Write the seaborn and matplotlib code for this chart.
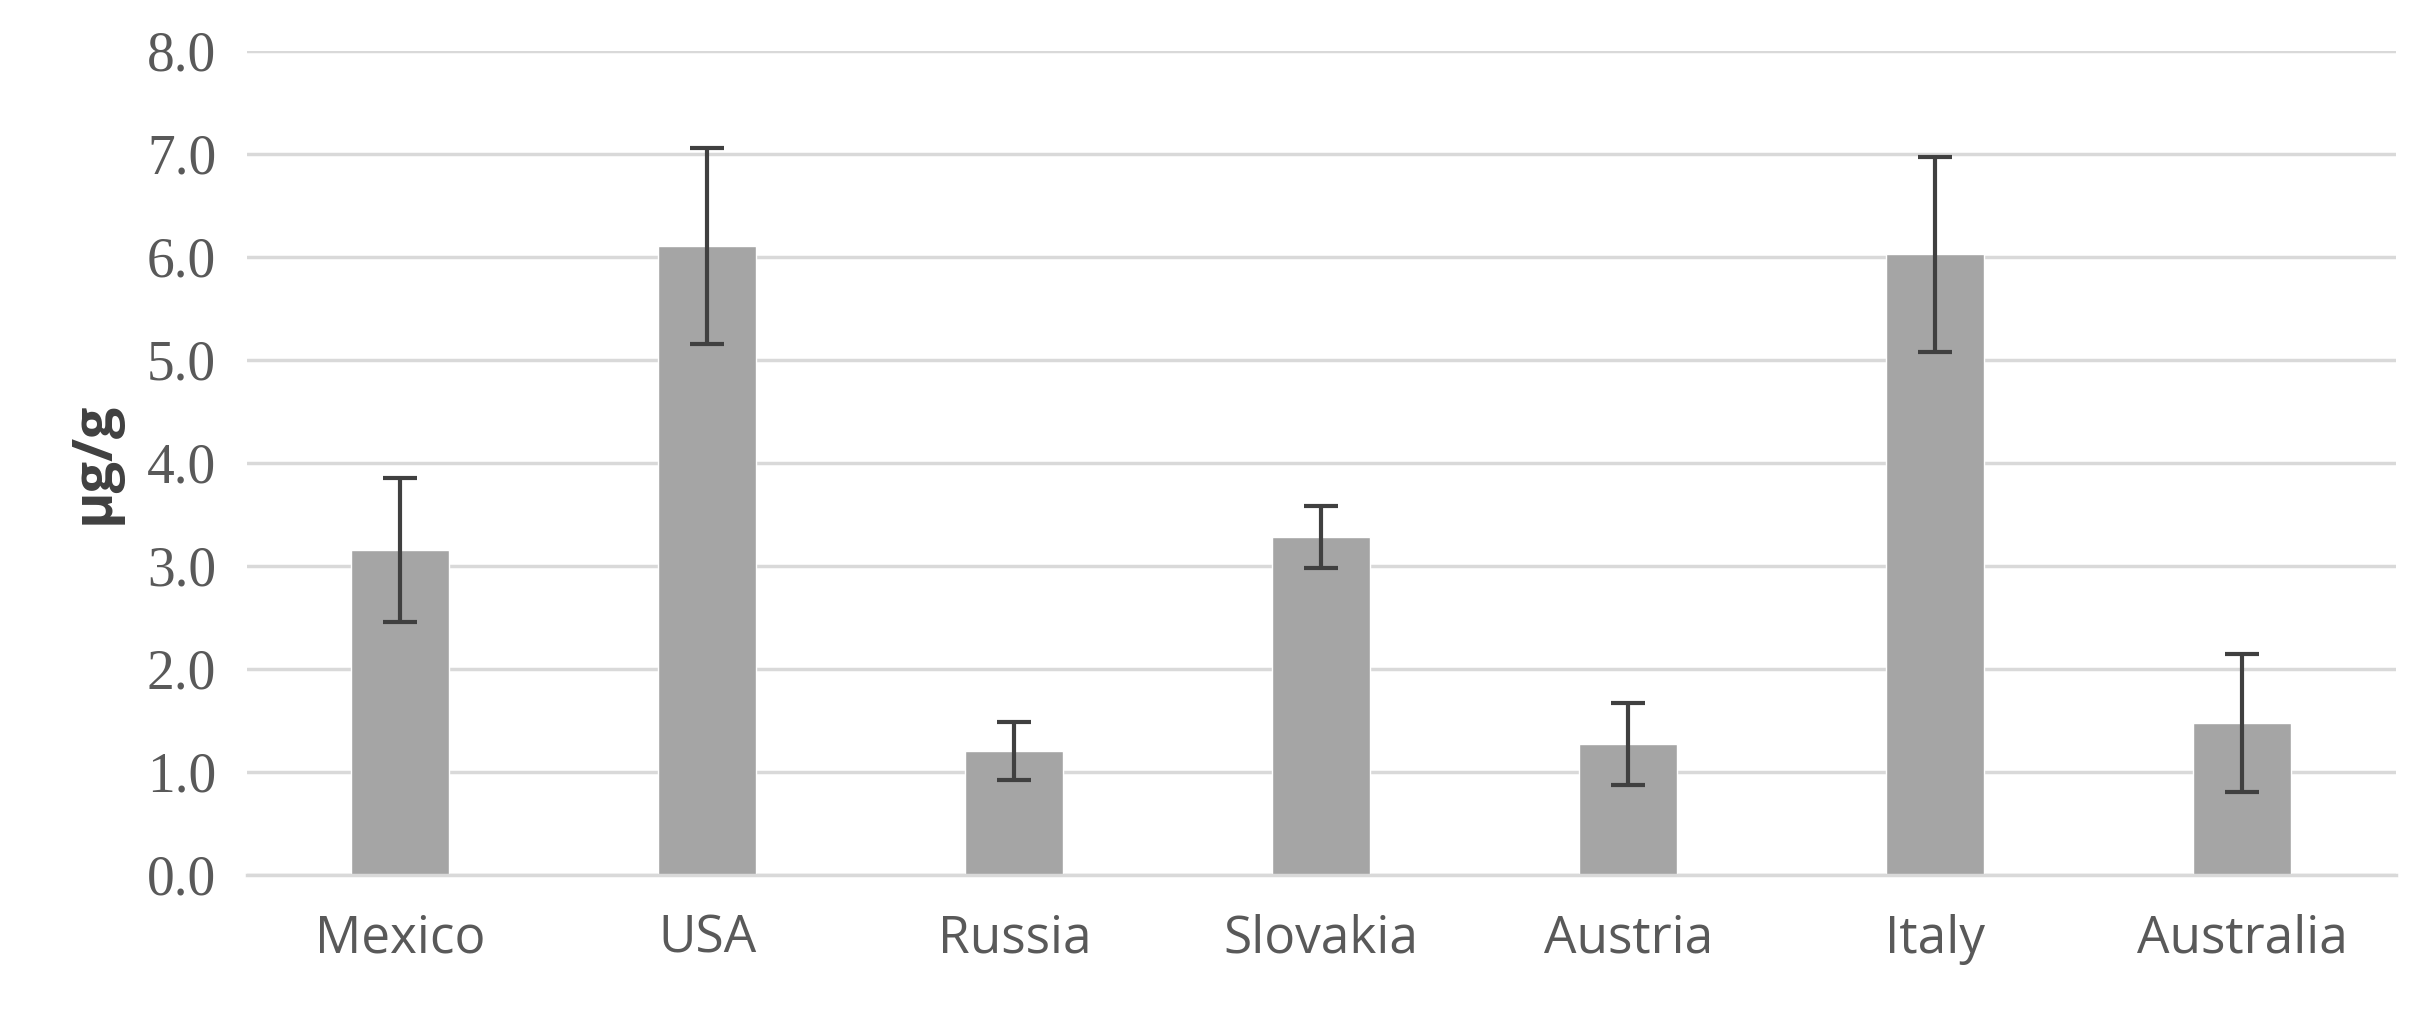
import numpy as np
import pandas as pd
import matplotlib
matplotlib.use("Agg")
import matplotlib.pyplot as plt
import seaborn as sns

countries = ["Mexico", "USA", "Russia", "Slovakia", "Austria", "Italy", "Australia"]
means = [3.15, 6.10, 1.20, 3.28, 1.27, 6.02, 1.47]
errors = [0.70, 0.95, 0.28, 0.30, 0.40, 0.95, 0.67]

df = pd.DataFrame({"country": countries, "value": means, "err": errors})

sns.set_style("white")
fig = plt.figure(figsize=(24.2, 10.1), dpi=100)
ax = fig.add_axes([0.102, 0.134, 0.888, 0.816])

sns.barplot(data=df, x="country", y="value", color="#a5a5a5", width=0.32,
            errorbar=None, ax=ax, zorder=2)
ax.errorbar(np.arange(len(countries)), df["value"], yerr=df["err"], fmt="none",
            ecolor="#404040", elinewidth=3, capsize=12, capthick=3, zorder=3)

ax.set_ylim(0, 8)
ax.set_yticks(np.arange(0, 8.1, 1.0))
ax.set_yticklabels([f"{v:.1f}" for v in np.arange(0, 8.1, 1.0)],
                   family="Liberation Serif", fontsize=40, color="#595959")
ax.set_xticklabels(countries, family="Open Sans", fontsize=37, color="#595959")
ax.set_xlabel("")
ax.set_ylabel("µg/g", family="Open Sans", fontsize=40, fontweight="bold",
              color="#404040", labelpad=18)
ax.grid(axis="y", color="#d9d9d9", linewidth=2.5, zorder=0)
ax.set_axisbelow(True)
for s in ["top", "right", "left"]:
    ax.spines[s].set_visible(False)
ax.spines["bottom"].set_color("#d9d9d9")
ax.spines["bottom"].set_linewidth(2.5)
ax.tick_params(axis="y", length=0, pad=22)
ax.tick_params(axis="x", length=0, pad=28)
ax.set_xlim(-0.5, len(countries) - 0.5)

fig.savefig("out.png", dpi=100)
